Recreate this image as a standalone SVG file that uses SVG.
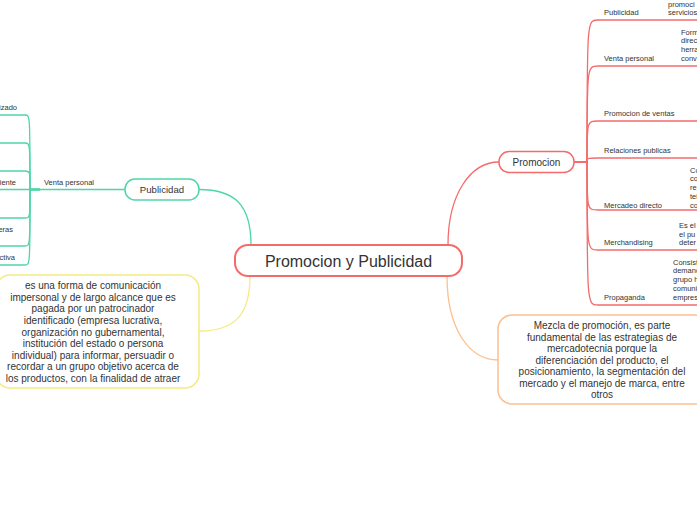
<svg xmlns="http://www.w3.org/2000/svg" width="697" height="520" viewBox="0 0 697 520">
<style>
text{font-family:"Liberation Sans",Arial,sans-serif;fill:#333}
.s{font-size:7.5px}
.d{font-size:10px;text-anchor:middle}
.r{fill:none;stroke:#f36c6c;stroke-width:1.3}
.g{fill:none;stroke:#4fd6a8;stroke-width:1.3}
.y{fill:none;stroke:#f6ea82;stroke-width:1.3}
.o{fill:none;stroke:#fcc08f;stroke-width:1.3}
</style>
<rect width="697" height="520" fill="#ffffff"/>
<g id="connectors">
<path class="r" d="M448,245 C448,195 470,162 499,162"/>
<path class="g" d="M251,245 C251,205 235,189.5 199,189.5"/>
<path class="y" d="M250,276 C250,315 235,331 199,331"/>
<path class="o" d="M447,276 C447,330 470,360 498,360"/>
<path class="r" d="M574,162 L587,162 C587,20 587,20 598,20 L697,20"/>
<path class="r" d="M574,162 L587,162 C587,66 587,66 598,66 L697,66"/>
<path class="r" d="M574,162 L587,162 C587,121 587,121 598,121 L697,121"/>
<path class="r" d="M574,162 L587,162 C587,158 587,158 598,158 L697,158"/>
<path class="r" d="M574,162 L587,162 C587,210 587,210 598,210 L697,210"/>
<path class="r" d="M574,162 L587,162 C587,250 587,250 598,250 L697,250"/>
<path class="r" d="M574,162 L587,162 C587,305 587,305 598,305 L697,305"/>
<path class="g" d="M125,189.5 L40,189.5"/>
<path class="g" d="M40,189.5 L30,189.5 C30,115 30,115 25,115 L0,115"/>
<path class="g" d="M40,189.5 L30,189.5 C30,143 30,143 25,143 L0,143"/>
<path class="g" d="M40,189.5 L30,189.5 C30,171 30,171 25,171 L0,171"/>
<path class="g" d="M40,189.5 L0,189.5"/>
<path class="g" d="M40,189.5 L30,189.5 C30,218 30,218 25,218 L0,218"/>
<path class="g" d="M40,189.5 L30,189.5 C30,246 30,246 25,246 L0,246"/>
<path class="g" d="M40,189.5 L30,189.5 C30,265 30,265 25,265 L0,265"/>
</g>
<g id="center">
<rect x="235" y="245" width="227" height="31" rx="13" fill="#fff" stroke="#f36c6c" stroke-width="2"/>
<text x="348.5" y="266.5" font-size="16" text-anchor="middle">Promocion y Publicidad</text>
</g>
<g id="promocion">
<rect x="499" y="151.5" width="75" height="21" rx="10" fill="#fff" stroke="#f36c6c" stroke-width="1.5"/>
<text x="536.5" y="165.5" font-size="10" text-anchor="middle">Promocion</text>
</g>
<g id="publicidad">
<rect x="125" y="179" width="74" height="21" rx="10" fill="#fff" stroke="#4fd6a8" stroke-width="1.5"/>
<text x="162" y="193" font-size="9.6" text-anchor="middle">Publicidad</text>
</g>
<g id="def-publicidad">
<rect x="-4" y="275" width="203" height="113" rx="14" fill="#fff" stroke="#f6ea82" stroke-width="1.5"/>
<text class="d" x="93" y="289.3">es una forma de comunicación</text>
<text class="d" x="93" y="300.9">impersonal y de largo alcance que es</text>
<text class="d" x="93" y="312.4">pagada por un patrocinador</text>
<text class="d" x="93" y="324">identificado (empresa lucrativa,</text>
<text class="d" x="93" y="335.6">organización no gubernamental,</text>
<text class="d" x="93" y="347.2">institución del estado o persona</text>
<text class="d" x="93" y="358.7">individual) para informar, persuadir o</text>
<text class="d" x="93" y="370.3">recordar a un grupo objetivo acerca de</text>
<text class="d" x="93" y="381.9">los productos, con la finalidad de atraer</text>
</g>
<g id="def-promocion">
<rect x="498" y="315" width="210" height="89" rx="14" fill="#fff" stroke="#fcc08f" stroke-width="1.5"/>
<text class="d" x="602" y="329.3">Mezcla de promoción, es parte</text>
<text class="d" x="602" y="340.7">fundamental de las estrategias de</text>
<text class="d" x="602" y="352.2">mercadotecnia porque la</text>
<text class="d" x="602" y="363.6">diferenciación del producto, el</text>
<text class="d" x="602" y="375">posicionamiento, la segmentación del</text>
<text class="d" x="602" y="386.5">mercado y el manejo de marca, entre</text>
<text class="d" x="602" y="397.9">otros</text>
</g>
<g id="venta-personal-left">
<text class="s" x="44" y="185.2">Venta personal</text>
<text class="s" x="17" y="109.5" text-anchor="end">lizado</text>
<text class="s" x="16" y="185.2" text-anchor="end">iente</text>
<text class="s" x="13" y="232" text-anchor="end">eras</text>
<text class="s" x="15" y="259.7" text-anchor="end">ctiva</text>
</g>
<g id="r-publicidad">
<text class="s" x="604" y="15">Publicidad</text>
<text class="s" x="668" y="6.7">promoci</text>
<text class="s" x="668" y="15.4">servicios</text>
</g>
<g id="r-venta">
<text class="s" x="604" y="61.4">Venta personal</text>
<text class="s" x="681" y="34.7">Form</text>
<text class="s" x="681" y="43">direc</text>
<text class="s" x="681" y="51.7">herra</text>
<text class="s" x="681" y="61">conv</text>
</g>
<g id="r-promo-ventas">
<text class="s" x="604" y="115.7">Promocion de ventas</text>
</g>
<g id="r-relaciones">
<text class="s" x="604" y="153.4">Relaciones publicas</text>
</g>
<g id="r-mercadeo">
<text class="s" x="604" y="208.4">Mercadeo directo</text>
<text class="s" x="690" y="172.7">Co</text>
<text class="s" x="690" y="181.4">co</text>
<text class="s" x="690" y="190">re</text>
<text class="s" x="690" y="198.7">tel</text>
<text class="s" x="690" y="207.7">co</text>
</g>
<g id="r-merch">
<text class="s" x="604" y="245.4">Merchandising</text>
<text class="s" x="679" y="227.7">Es el</text>
<text class="s" x="679" y="237">el pu</text>
<text class="s" x="679" y="245.4">deter</text>
</g>
<g id="r-propaganda">
<text class="s" x="604" y="300.4">Propaganda</text>
<text class="s" x="673" y="265">Consist</text>
<text class="s" x="673" y="273.4">demand</text>
<text class="s" x="673" y="281.7">grupo h</text>
<text class="s" x="673" y="291">comuni</text>
<text class="s" x="673" y="300">empres</text>
</g>
</svg>
